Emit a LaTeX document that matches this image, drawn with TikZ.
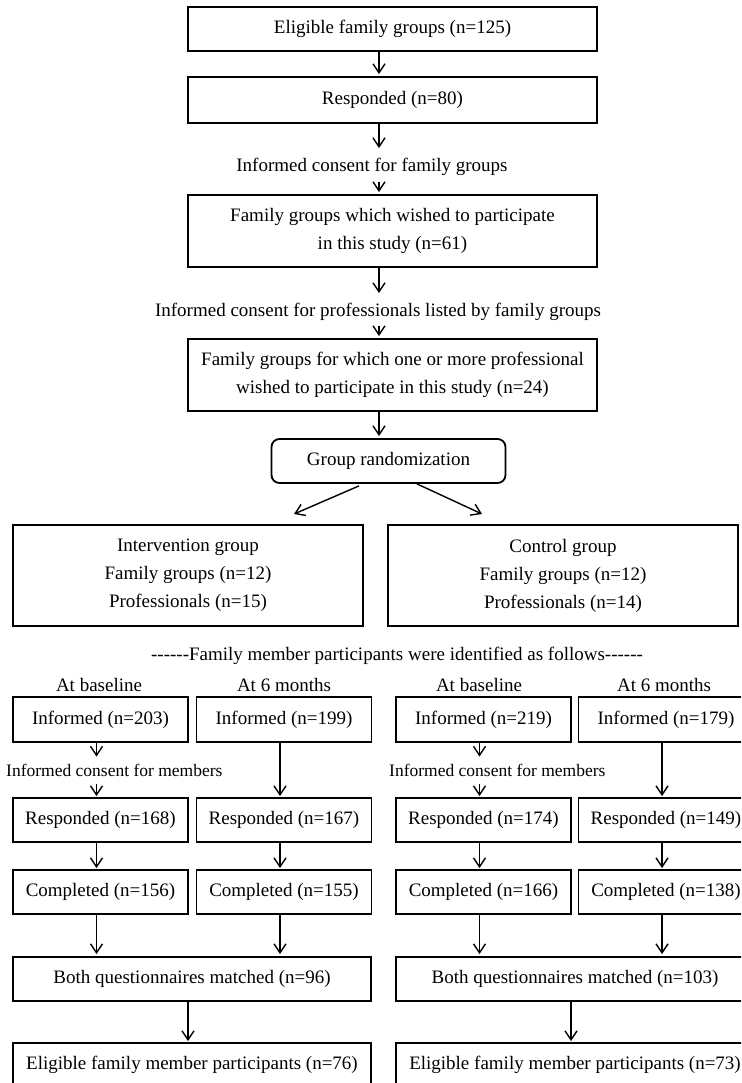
\documentclass[tikz,border=0pt]{standalone}
\usepackage{fontspec}
\setmainfont{Liberation Serif}
\usetikzlibrary{arrows.meta}
\begin{document}
\begin{tikzpicture}[x=1pt,y=-1pt,
  txt/.style={inner sep=0pt,align=center,font=\fontsize{19}{28}\selectfont},
  small/.style={inner sep=0pt,font=\fontsize{17.5}{21}\selectfont},
  box/.style={txt,draw,line width=1.8pt},
  arr/.style={line width=1.4pt,-{Straight Barb[length=9pt,width=12pt]}}]
\useasboundingbox (0,0) rectangle (741,1083);
\clip (0,0) rectangle (741,1083);
\fill[white] (0,0) rectangle (741,1083);
\coordinate (ax) at (379,0);
% top chain
\node[box,minimum width=409pt,minimum height=44pt] (b1) at (392.5,29) {Eligible family groups (n=125)};
\node[box,minimum width=409pt,minimum height=46pt] (b2) at (392.5,100) {Responded (n=80)};
\node[txt] (l1) at (372,167) {Informed consent for family groups};
\node[box,minimum width=409pt,minimum height=72pt] (b3) at (392.5,231) {Family groups which wished to participate\\in this study (n=61)};
\node[txt] (l2) at (378,312) {Informed consent for professionals listed by family groups};
\node[box,minimum width=409pt,minimum height=72pt] (b4) at (392.5,375) {Family groups for which one or more professional\\wished to participate in this study (n=24)};
\node[box,rounded corners=8pt,minimum width=234pt,minimum height=44pt] (rand) at (388.5,461) {Group randomization};
\node[box,minimum width=350pt,minimum height=101pt] (int) at (188,575.5) {Intervention group\\Family groups (n=12)\\Professionals (n=15)};
\node[box,minimum width=350pt,minimum height=101pt] (ctl) at (563,575.5) {Control group\\Family groups (n=12)\\Professionals (n=14)};
\coordinate (tl) at (294,514);
\coordinate (tr) at (482,514);
\node[txt] (fm) at (397,656) {-{}-{}-{}-{}-{}-Family member participants were identified as follows-{}-{}-{}-{}-{}-};
% column headings
\node[txt] (h1) at (99,685) {At baseline};
\node[txt] (h2) at (284,685) {At 6 months};
\node[txt] (h3) at (479,685) {At baseline};
\node[txt] (h4) at (664,685) {At 6 months};
% small boxes
\node[box,minimum width=175pt,minimum height=45pt] (i1) at (100.5,719.5) {Informed (n=203)};
\node[box,minimum width=175pt,minimum height=45pt] (i2) at (284,719.5) {Informed (n=199)};
\node[box,minimum width=175pt,minimum height=45pt] (i3) at (483.5,719.5) {Informed (n=219)};
\node[box,minimum width=175pt,minimum height=45pt] (i4) at (666,719.5) {Informed (n=179)};
\node[small,anchor=west] (m1) at (6,770) {Informed consent for members};
\node[small,anchor=west] (m2) at (389,770) {Informed consent for members};
\node[box,minimum width=175pt,minimum height=44pt] (r1) at (100.5,820) {Responded (n=168)};
\node[box,minimum width=175pt,minimum height=44pt] (r2) at (284,820) {Responded (n=167)};
\node[box,minimum width=175pt,minimum height=44pt] (r3) at (483.5,820) {Responded (n=174)};
\node[box,minimum width=175pt,minimum height=44pt] (r4) at (666,820) {Responded (n=149)};
\node[box,minimum width=175pt,minimum height=44pt] (c1) at (100.5,892) {Completed (n=156)};
\node[box,minimum width=175pt,minimum height=44pt] (c2) at (284,892) {Completed (n=155)};
\node[box,minimum width=175pt,minimum height=44pt] (c3) at (483.5,892) {Completed (n=166)};
\node[box,minimum width=175pt,minimum height=44pt] (c4) at (666,892) {Completed (n=138)};
\node[box,minimum width=358pt,minimum height=44pt] (q1) at (192,979) {Both questionnaires matched (n=96)};
\node[box,minimum width=358pt,minimum height=44pt] (q2) at (575,979) {Both questionnaires matched (n=103)};
\node[box,minimum width=358pt,minimum height=44pt] (e1) at (192,1065) {Eligible family member participants (n=76)};
\node[box,minimum width=358pt,minimum height=44pt] (e2) at (575,1065) {Eligible family member participants (n=73)};
% arrows top
\draw[arr,shorten >=2pt] (b1.south -| ax) -- (b2.north -| ax);
\draw[arr,shorten >=10pt] (b2.south -| ax) -- (l1.north -| ax);
\draw[arr,shorten <=6pt,shorten >=2pt] (l1.south -| ax) -- (b3.north -| ax);
\draw[arr,shorten >=10pt] (b3.south -| ax) -- (l2.north -| ax);
\draw[arr,shorten <=5pt,shorten >=2pt] (l2.south -| ax) -- (b4.north -| ax);
\draw[arr,shorten >=2pt] (b4.south -| ax) -- (rand.north -| ax);
\draw[arr] ([xshift=-29.5pt,yshift=-2pt]rand.south) -- (tl);
\draw[arr] ([xshift=28.5pt]rand.south) -- (tr);
% column arrows
\draw[arr,shorten >=7pt] ([xshift=-4pt]i1.south) -- ([xshift=-4pt]i1.south |- m1.north);
\draw[arr,shorten <=8pt,shorten >=1pt] ([xshift=-4pt]r1.north |- m1.south) -- ([xshift=-4pt]r1.north);
\draw[arr,shorten >=7pt] ([xshift=-4pt]i3.south) -- ([xshift=-4pt]i3.south |- m2.north);
\draw[arr,shorten <=8pt,shorten >=1pt] ([xshift=-4pt]r3.north |- m2.south) -- ([xshift=-4pt]r3.north);
\draw[arr,shorten >=1pt] ([xshift=-4pt]i2.south) -- ([xshift=-4pt]r2.north);
\draw[arr,shorten >=1pt] ([xshift=-4pt]i4.south) -- ([xshift=-4pt]r4.north);
\foreach \n in {1,2,3,4}{
  \draw[arr,shorten >=1pt] ([xshift=-4pt]r\n.south) -- ([xshift=-4pt]c\n.north);
}
\draw[arr,shorten >=2pt] ([xshift=-4pt]c1.south) -- ([xshift=-4pt]c1.south |- q1.north);
\draw[arr,shorten >=2pt] ([xshift=-4pt]c2.south) -- ([xshift=-4pt]c2.south |- q1.north);
\draw[arr,shorten >=2pt] ([xshift=-4pt]c3.south) -- ([xshift=-4pt]c3.south |- q2.north);
\draw[arr,shorten >=2pt] ([xshift=-4pt]c4.south) -- ([xshift=-4pt]c4.south |- q2.north);
\draw[arr,shorten >=1pt] ([xshift=-4pt]q1.south) -- ([xshift=-4pt]e1.north);
\draw[arr,shorten >=1pt] ([xshift=-4pt]q2.south) -- ([xshift=-4pt]e2.north);
\end{tikzpicture}
\end{document}
